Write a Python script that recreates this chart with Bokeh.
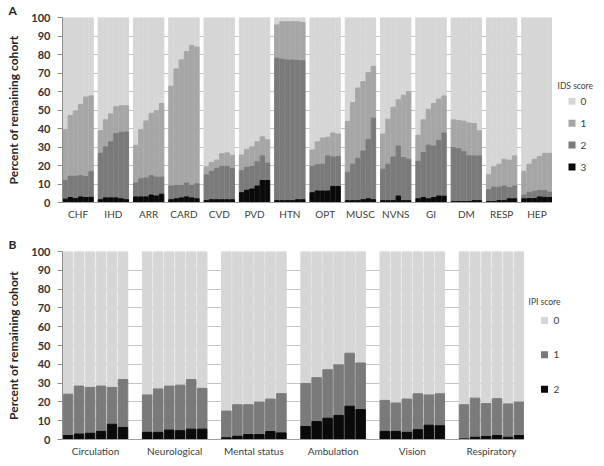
from bokeh.plotting import figure
from bokeh.models import ColumnDataSource, FixedTicker, Range1d
from bokeh.core.properties import value
from bokeh.layouts import column, row
from bokeh.embed import file_html
from bokeh.resources import INLINE

FONT = "Lato"

# ---------------- Panel A data: IDS score (percent of remaining cohort) ----------------
ids_groups = ["CHF", "IHD", "ARR", "CARD", "CVD", "PVD", "HTN", "OPT", "MUSC",
              "NVNS", "GI", "DM", "RESP", "HEP"]
# percent with IDS score >= 1 (six successive time points per group)
ids_ge1 = [
    [39.5, 47.0, 49.5, 53.0, 57.0, 57.6],   # CHF
    [38.8, 44.7, 47.9, 51.8, 52.3, 52.3],   # IHD
    [30.9, 39.4, 44.1, 48.2, 49.6, 53.5],   # ARR
    [62.9, 72.2, 77.1, 81.6, 84.9, 84.0],   # CARD
    [19.3, 21.6, 22.9, 26.4, 26.8, 25.5],   # CVD
    [25.7, 28.7, 30.1, 32.8, 35.5, 33.9],   # PVD
    [96.0, 97.7, 97.7, 97.7, 97.7, 97.3],   # HTN
    [28.4, 32.8, 34.9, 35.3, 37.6, 37.0],   # OPT
    [43.8, 54.0, 61.9, 65.4, 70.2, 73.6],   # MUSC
    [37.0, 45.0, 51.5, 55.5, 58.0, 60.0],   # NVNS
    [36.3, 44.7, 50.4, 53.5, 55.9, 57.6],   # GI
    [44.7, 44.3, 44.0, 43.0, 42.7, 38.8],   # DM
    [15.0, 19.3, 20.7, 23.4, 22.9, 25.2],   # RESP
    [16.8, 20.7, 23.4, 24.8, 26.6, 26.6],   # HEP
]
# percent with IDS score >= 2
ids_ge2 = [
    [11.9, 14.2, 14.2, 14.5, 14.0, 16.8],
    [26.6, 30.1, 32.8, 37.2, 37.9, 38.1],
    [10.5, 12.8, 13.3, 14.5, 13.7, 13.7],
    [8.9, 9.2, 9.2, 10.5, 9.2, 10.1],
    [14.9, 16.8, 18.4, 19.5, 19.5, 18.4],
    [17.2, 19.0, 19.5, 22.0, 25.2, 21.3],
    [78.0, 77.5, 77.0, 77.0, 76.8, 76.6],
    [19.5, 20.4, 20.7, 25.2, 24.6, 24.8],
    [16.3, 20.7, 23.9, 27.8, 34.0, 45.6],
    [18.0, 20.7, 24.6, 30.5, 24.3, 23.4],
    [22.2, 27.0, 31.0, 30.5, 33.5, 37.6],
    [29.6, 29.0, 27.5, 25.2, 25.2, 25.2],
    [6.9, 8.3, 8.3, 8.9, 8.0, 8.9],
    [4.0, 5.5, 6.0, 6.5, 6.5, 5.5],
]
# percent with IDS score = 3
ids_eq3 = [
    [1.8, 2.7, 2.1, 3.0, 2.7, 2.8],
    [1.5, 2.5, 2.5, 2.5, 2.0, 1.5],
    [3.0, 3.0, 3.0, 4.0, 3.5, 4.5],
    [1.5, 2.0, 2.5, 3.0, 2.5, 2.0],
    [1.0, 1.5, 1.5, 1.5, 1.5, 1.5],
    [5.3, 6.6, 7.3, 8.9, 11.9, 11.9],
    [1.0, 1.0, 1.0, 1.0, 1.5, 1.5],
    [5.3, 6.2, 6.2, 6.2, 8.7, 8.7],
    [1.0, 1.0, 1.0, 1.5, 2.0, 1.5],
    [1.0, 1.0, 1.0, 3.5, 1.0, 1.0],
    [2.0, 2.7, 2.0, 2.7, 3.5, 3.4],
    [0.5, 0.5, 0.5, 0.5, 1.0, 1.0],
    [0.5, 0.5, 1.0, 1.0, 2.0, 2.0],
    [2.0, 2.1, 2.1, 3.0, 2.8, 2.7],
]

# ---------------- Panel B data: IPI score ----------------
ipi_groups = ["Circulation", "Neurological", "Mental status", "Ambulation",
              "Vision", "Respiratory"]
ipi_ge1 = [
    [24.1, 28.4, 27.7, 28.4, 27.7, 31.9],
    [23.7, 26.9, 28.4, 28.9, 31.9, 27.2],
    [15.1, 18.5, 18.5, 19.9, 21.5, 24.4],
    [29.8, 32.9, 37.1, 39.7, 45.9, 40.7],
    [20.8, 19.4, 21.5, 24.3, 23.7, 24.3],
    [18.5, 22.0, 19.1, 21.7, 18.9, 19.9],
]
ipi_eq2 = [
    [2.1, 2.9, 3.3, 4.3, 8.1, 6.4],
    [3.8, 3.8, 5.0, 4.7, 5.5, 5.5],
    [0.9, 1.7, 2.6, 2.6, 4.2, 3.5],
    [6.9, 9.5, 11.3, 12.8, 17.7, 15.9],
    [4.3, 4.3, 3.8, 5.2, 7.6, 7.3],
    [0.3, 1.2, 1.6, 2.1, 1.2, 2.1],
]

y_ticks = list(range(0, 101, 10))
ids_levels = ["0", "1", "2", "3"]
ipi_levels = ["0", "1", "2"]

TOP_COLORS = ["#d6d6d6", "#a6a6a6", "#7a7a7a", "#0a0a0a"]   # score 0,1,2,3
BOT_COLORS = ["#d6d6d6", "#7a7a7a", "#0a0a0a"]              # score 0,1,2


def positions(n_groups, n_bars, gap):
    xs, centers = [], []
    for g in range(n_groups):
        start = g * (n_bars + gap)
        centers.append(round(start + n_bars / 2, 3))
        for i in range(n_bars):
            xs.append(start + i + 0.5)
    return xs, centers, n_groups * n_bars + (n_groups - 1) * gap


def base_figure(width, height, xmax, left, top, bottom, centers, names, letter):
    p = figure(width=width, height=height, x_range=Range1d(0, xmax),
               y_range=Range1d(0, 100), output_backend="svg",
               toolbar_location=None, min_border_left=left,
               min_border_right=0, min_border_top=top,
               min_border_bottom=bottom)
    p.outline_line_color = None
    p.xgrid.visible = False
    p.ygrid.ticker = FixedTicker(ticks=y_ticks)
    p.ygrid.grid_line_color = "#c4c4c4"
    p.ygrid.grid_line_width = 1

    # panel letter
    p.title.text = letter
    p.title.align = "left"
    p.title.offset = -54
    p.title.standoff = 0
    p.title.text_font = FONT
    p.title.text_font_style = "bold"
    p.title.text_font_size = "12px"
    p.title.text_color = "#262626"

    ya = p.yaxis[0]
    ya.ticker = FixedTicker(ticks=y_ticks)
    ya.axis_line_color = "#8c8c8c"
    ya.major_tick_line_color = "#8c8c8c"
    ya.major_tick_out = 5
    ya.major_tick_in = 0
    ya.minor_tick_line_color = None
    ya.major_label_standoff = 7
    ya.major_label_text_font = FONT
    ya.major_label_text_font_style = "bold"
    ya.major_label_text_font_size = "11px"
    ya.major_label_text_color = "#333333"
    ya.axis_label = "Percent of remaining cohort"
    ya.axis_label_text_font = FONT
    ya.axis_label_text_font_style = "bold"
    ya.axis_label_text_font_size = "12px"
    ya.axis_label_text_color = "#262626"
    ya.axis_label_standoff = 7

    xa = p.xaxis[0]
    xa.ticker = FixedTicker(ticks=centers)
    xa.major_label_overrides = {c: n for c, n in zip(centers, names)}
    xa.axis_line_color = "#a0a0a0"
    xa.major_tick_line_color = None
    xa.major_tick_out = 0
    xa.major_tick_in = 0
    xa.minor_tick_line_color = None
    xa.major_label_standoff = 5
    xa.major_label_text_font = FONT
    xa.major_label_text_font_size = "10px"
    xa.major_label_text_color = "#404040"
    return p


def legend_figure(width, height, title, labels, colors, title_xy, sq_x, lab_x, row0, pitch):
    """Small companion figure (screen-pixel coordinates) that holds the key."""
    lf = figure(width=width, height=height, x_range=Range1d(0, width),
                y_range=Range1d(height, 0), output_backend="svg",
                toolbar_location=None, x_axis_type=None, y_axis_type=None,
                min_border=0)
    lf.outline_line_color = None
    lf.grid.visible = False
    ys = [row0 + i * pitch for i in range(len(labels))]
    lf.text(x=[title_xy[0]], y=[title_xy[1]], text=[title], text_font=value(FONT),
            text_font_size="8.5px", text_color="#404040", text_baseline="middle",
            text_align="left")
    lf.scatter(x=[sq_x] * len(labels), y=ys, marker="square", size=7,
               fill_color=colors, line_color=None)
    lf.text(x=[lab_x] * len(labels), y=ys, text=labels, text_font=value(FONT),
            text_font_size="10px", text_color="#404040", text_baseline="middle",
            text_align="left")
    return lf


# ---------------- Panel A ----------------
xa_pos, a_centers, a_max = positions(len(ids_groups), 6, 0.8)
pA = base_figure(552, 234, a_max, 62, 14, 32, a_centers, ids_groups, "A")

srcA = ColumnDataSource(dict(
    x=xa_pos,
    eq3=[v for row_ in ids_eq3 for v in row_],
    ge2=[v for row_ in ids_ge2 for v in row_],
    ge1=[v for row_ in ids_ge1 for v in row_],
    full=[100] * len(xa_pos),
))
wA = 0.86
pA.vbar(x="x", bottom="ge1", top="full", width=wA, color=TOP_COLORS[0], source=srcA)
pA.vbar(x="x", bottom="ge2", top="ge1", width=wA, color=TOP_COLORS[1], source=srcA)
pA.vbar(x="x", bottom="eq3", top="ge2", width=wA, color=TOP_COLORS[2], source=srcA)
pA.vbar(x="x", bottom=0, top="eq3", width=wA, color=TOP_COLORS[3], source=srcA)
legA = legend_figure(52, 234, "IDS score", ids_levels, TOP_COLORS, (5, 87), 19.5, 28, 106, 27.7)

# ---------------- Panel B ----------------
xb_pos, b_centers, b_max = positions(len(ipi_groups), 6, 1.2)
pB = base_figure(524, 232, b_max, 62, 13, 27, b_centers, ipi_groups, "B")

srcB = ColumnDataSource(dict(
    x=xb_pos,
    eq2=[v for row_ in ipi_eq2 for v in row_],
    ge1=[v for row_ in ipi_ge1 for v in row_],
    full=[100] * len(xb_pos),
))
wB = 0.87
pB.vbar(x="x", bottom="ge1", top="full", width=wB, color=BOT_COLORS[0], source=srcB)
pB.vbar(x="x", bottom="eq2", top="ge1", width=wB, color=BOT_COLORS[1], source=srcB)
pB.vbar(x="x", bottom=0, top="eq2", width=wB, color=BOT_COLORS[2], source=srcB)
legB = legend_figure(80, 232, "IPI score", ipi_levels, BOT_COLORS, (4, 62), 20, 29, 85, 42.5)

layout = column(row(pA, legA, spacing=0), row(pB, legB, spacing=0), spacing=0)
open("out.html", "w").write(file_html(layout, INLINE))
